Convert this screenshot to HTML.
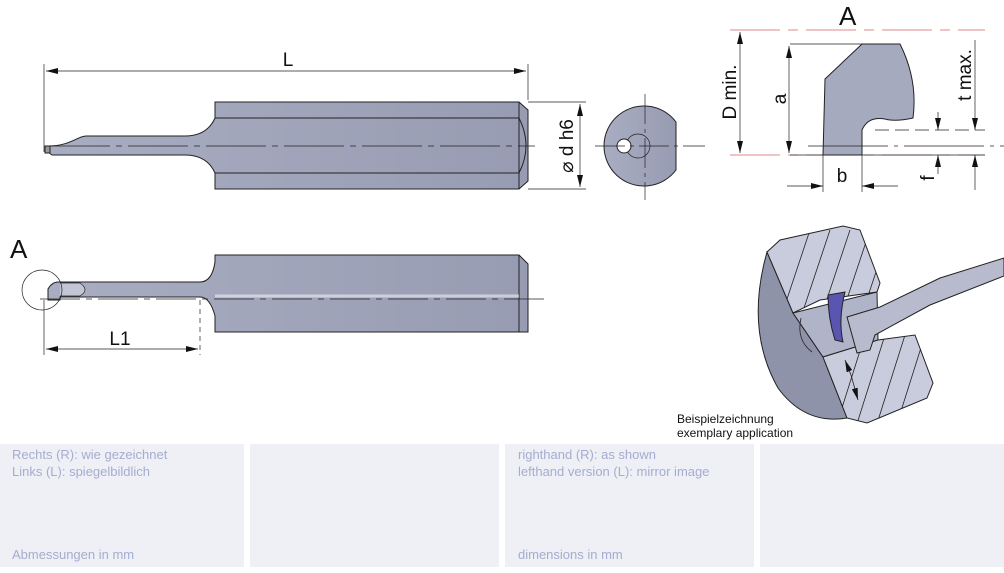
<!DOCTYPE html>
<html><head><meta charset="utf-8"><style>
body{margin:0;background:#fff;width:1004px;height:573px;overflow:hidden;font-family:"Liberation Sans",sans-serif}
.p{position:absolute;top:444px;height:123px;background:#eef0f5}
.t{position:absolute;font-size:13px;color:#a6acd0;line-height:17px}
</style></head><body>
<div class="p" style="left:0;width:244px"></div>
<div class="p" style="left:250px;width:249px"></div>
<div class="p" style="left:505px;width:249px"></div>
<div class="p" style="left:760px;width:244px"></div>
<div class="t" style="left:12px;top:446px">Rechts (R): wie gezeichnet<br>Links (L): spiegelbildlich</div>
<div class="t" style="left:12px;top:546px">Abmessungen in mm</div>
<div class="t" style="left:518px;top:446px">righthand (R): as shown<br>lefthand version (L): mirror image</div>
<div class="t" style="left:518px;top:546px">dimensions in mm</div>
<svg width="1004" height="573" style="position:absolute;left:0;top:0" font-family="Liberation Sans, sans-serif">
<defs>
<linearGradient id="g" x1="0" y1="0" x2="1" y2="0"><stop offset="0" stop-color="#a9adc2"/><stop offset="1" stop-color="#979cb2"/></linearGradient>
<marker id="ar" markerWidth="12" markerHeight="6" refX="12" refY="3" orient="auto" markerUnits="userSpaceOnUse"><path d="M0,0L12,3L0,6z" fill="#111"/></marker>
<clipPath id="cb"><path d="M767,252 L780,240 L843,226 L860,230 L880,283 L877,292 L820,300 L793,313 Z M823,357 L878,340 L915,335 L933,383 L927,398 L867,423 L847,418 Z"/></clipPath>
</defs>
<g stroke="#222" stroke-width="1">
<line x1="44" y1="64" x2="44" y2="152" stroke-width="0.7"/>
<line x1="528" y1="64" x2="528" y2="100" stroke-width="0.7"/>
<line x1="286" y1="71" x2="46" y2="71" stroke-width="0.7" marker-end="url(#ar)"/>
<line x1="286" y1="71" x2="526" y2="71" stroke-width="0.7" marker-end="url(#ar)"/>
<path d="M48,146 C70,146 78,136 86,136 L185,136 Q207,136 215,118 L215,102 L519,102 L528,110 L528,181 L519,189 L215,189 L215,173 Q207,155 185,155 L52,155 L48,152 Z" fill="url(#g)"/>
<rect x="45" y="146" width="5" height="7" fill="#999"/>
<line x1="215" y1="118" x2="519" y2="118"/><line x1="215" y1="173" x2="519" y2="173"/>
<line x1="519" y1="102" x2="519" y2="189"/>
<path d="M519,118 Q533,146 519,173" fill="none"/>
<line x1="50" y1="146" x2="535" y2="146" stroke-width="0.7" stroke-dasharray="60,6,6,6"/>
<line x1="528" y1="102" x2="586" y2="102" stroke-width="0.7"/><line x1="528" y1="189" x2="586" y2="189" stroke-width="0.7"/>
<line x1="580" y1="146" x2="580" y2="187" stroke-width="0.7" marker-end="url(#ar)"/>
<line x1="580" y1="146" x2="580" y2="104" stroke-width="0.7" marker-end="url(#ar)"/>
<path d="M676,122 A40,40 0 1 0 676,170 Z" fill="url(#g)"/>
<circle cx="638" cy="146" r="12" fill="none" stroke-width="0.7"/>
<circle cx="624" cy="146" r="7" fill="#fff"/>
<line x1="595" y1="146" x2="705" y2="146" stroke-width="0.7" stroke-dasharray="30,5,4,5"/>
<line x1="645" y1="94" x2="645" y2="200" stroke-width="0.7" stroke-dasharray="30,5,4,5"/>
<path d="M48,289 Q52,282 58,282 L200,282 Q212,282 215,262 L215,255 L519,255 L528,264 L528,332 L215,332 L215,316 Q210,297 200,297 L60,297 L60,300 L48,300 Z" fill="url(#g)"/>
<path d="M60,283 L80,283 Q90,290 80,296 L60,296" fill="#c3c6d6" stroke-width="0.7"/>
<line x1="519" y1="255" x2="519" y2="332"/>
<line x1="215" y1="296" x2="519" y2="296" stroke="#fff" stroke-width="3" opacity="0.5"/>
<line x1="40" y1="299" x2="545" y2="299" stroke-width="0.7" stroke-dasharray="40,6,6,6"/>
<circle cx="42" cy="290" r="20" fill="none" stroke-width="0.7"/>
<line x1="44" y1="300" x2="44" y2="355" stroke-width="0.7"/>
<line x1="200" y1="300" x2="200" y2="355" stroke-width="0.7" stroke-dasharray="5,4"/>
<line x1="120" y1="349" x2="198" y2="349" stroke-width="0.7" marker-end="url(#ar)"/>
<line x1="120" y1="349" x2="46" y2="349" stroke-width="0.7" marker-end="url(#ar)"/>
<line x1="730" y1="30" x2="985" y2="30" stroke="#e08a8a" stroke-dasharray="50,8,10,8"/>
<line x1="730" y1="155" x2="985" y2="155" stroke="#e08a8a" stroke-dasharray="50,8,10,8"/>
<path d="M825,79 L862,44 L900,44 Q918,80 913,118 Q895,122 885,119 Q868,116 862,130 L862,155 L823,155 Z" fill="#a5aabf"/>
<line x1="790" y1="44" x2="862" y2="44" stroke-width="0.7"/>
<line x1="790" y1="155" x2="985" y2="155" stroke-width="0.7"/>
<line x1="740" y1="92" x2="740" y2="153" stroke-width="0.7" marker-end="url(#ar)"/><line x1="740" y1="92" x2="740" y2="32" stroke-width="0.7" marker-end="url(#ar)"/>
<line x1="789" y1="100" x2="789" y2="153" stroke-width="0.7" marker-end="url(#ar)"/><line x1="789" y1="100" x2="789" y2="46" stroke-width="0.7" marker-end="url(#ar)"/>
<line x1="875" y1="130" x2="985" y2="130" stroke-width="0.7" stroke-dasharray="14,6"/>
<line x1="808" y1="146" x2="1004" y2="146" stroke-width="0.7" stroke-dasharray="80,6,4,6"/>
<line x1="975" y1="40" x2="975" y2="130" stroke-width="0.7" marker-end="url(#ar)"/>
<line x1="975" y1="190" x2="975" y2="155" stroke-width="0.7" marker-end="url(#ar)"/>
<line x1="938" y1="112" x2="938" y2="130" stroke-width="0.7" marker-end="url(#ar)"/>
<line x1="938" y1="174" x2="938" y2="155" stroke-width="0.7" marker-end="url(#ar)"/>
<line x1="823" y1="155" x2="823" y2="192" stroke-width="0.7"/><line x1="862" y1="155" x2="862" y2="192" stroke-width="0.7"/>
<line x1="787" y1="186" x2="823" y2="186" stroke-width="0.7" marker-end="url(#ar)"/>
<line x1="898" y1="186" x2="862" y2="186" stroke-width="0.7" marker-end="url(#ar)"/>
<path d="M767,252 Q745,330 778,388 Q805,425 847,418 L823,357 L793,313 Z" fill="#8e93aa"/>
<path d="M767,252 L780,240 L843,226 L860,230 L880,283 L877,292 L820,300 L793,313 Z" fill="#c9ccdc"/>
<path d="M793,313 L877,292 L878,340 L823,357 Z" fill="#b0b4c8"/>
<path d="M823,357 L878,340 L915,335 L933,383 L927,398 L867,423 L847,418 Z" fill="#c9ccdc"/>
<g clip-path="url(#cb)" stroke-width="0.8">
<line x1="780" y1="320" x2="810" y2="230"/><line x1="800" y1="320" x2="830" y2="230"/><line x1="820" y1="320" x2="850" y2="230"/><line x1="840" y1="320" x2="870" y2="230"/><line x1="860" y1="320" x2="890" y2="230"/>
<line x1="835" y1="430" x2="865" y2="335"/><line x1="855" y1="430" x2="885" y2="335"/><line x1="875" y1="430" x2="905" y2="335"/><line x1="895" y1="430" x2="925" y2="335"/>
</g>
<path d="M801,318 Q796,340 812,352" fill="none" stroke-width="0.8"/>
<path d="M828,295 L845,292 Q838,320 843,342 L835,340 Q828,318 828,295 Z" fill="#5a55b0"/>
<path d="M847,317 L880,307 L940,278 L1004,258 L1004,276 L930,305 L875,335 L870,350 L857,353 Z" fill="#b7bbcd"/>
<line x1="851" y1="375" x2="845" y2="360" stroke-width="0.8" marker-end="url(#ar)"/>
<line x1="851" y1="375" x2="858" y2="400" stroke-width="0.8" marker-end="url(#ar)"/>
</g>
<g font-size="19" fill="#111" text-anchor="middle">
<text x="288" y="66">L</text>
<text x="120" y="345">L1</text>
<text x="842" y="182">b</text>
<text transform="translate(573,146) rotate(-90)" y="0">⌀ d h6</text>
<text transform="translate(736,92) rotate(-90)">D min.</text>
<text transform="translate(786,99) rotate(-90)">a</text>
<text transform="translate(971,75) rotate(-90)">t max.</text>
<text transform="translate(934,178) rotate(-90)">f</text>
</g>
<text x="10" y="258" font-size="26" fill="#111">A</text>
<text x="839" y="25" font-size="26" fill="#111">A</text>
<text x="677" y="423" font-size="12" fill="#111">Beispielzeichnung</text>
<text x="677" y="437" font-size="12" fill="#111">exemplary application</text>
</svg>
</body></html>
